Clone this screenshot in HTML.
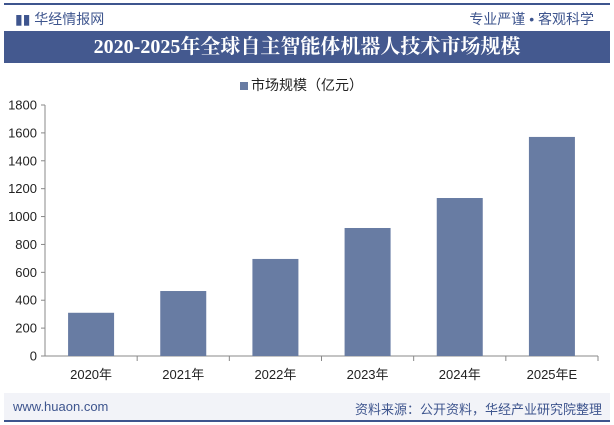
<!DOCTYPE html>
<html><head><meta charset="utf-8"><style>
body{margin:0;width:614px;height:425px;background:#fff;font-family:"Liberation Sans","Noto Sans CJK SC",sans-serif;position:relative;overflow:hidden}
.abs{position:absolute}
</style></head><body>
<div class="abs" style="left:4px;top:3px;width:606px;height:2px;background:#3e558e"></div>
<div class="abs" style="left:15px;top:9px;font-size:14px;color:#3e558e">▮▮ 华经情报网</div>
<div class="abs" style="right:20px;top:9px;font-size:14px;color:#3e558e">专业严谨 • 客观科学</div>
<div class="abs" style="left:4px;top:31px;width:606px;height:32px;background:#44598f;color:#fff;font-size:20px;font-weight:bold;text-align:center;line-height:32px;font-family:'Liberation Serif','Noto Serif CJK SC',serif">2020-2025年全球自主智能体机器人技术市场规模</div>
<div class="abs" style="left:240px;top:75px;font-size:14px;color:#222"><span style="display:inline-block;width:8px;height:8px;background:#687ca3;margin-right:3px"></span>市场规模（亿元）</div>
<svg class="abs" style="left:0;top:0" width="614" height="425" id="chart"></svg>
<div class="abs" style="left:4px;top:393px;width:606px;height:27px;background:#f2f3f8"></div>
<div class="abs" style="left:4px;top:420px;width:606px;height:2px;background:#3e558e"></div>
<div class="abs" style="left:13px;top:399px;font-size:13px;color:#3e558e">www.huaon.com</div>
<div class="abs" style="right:12px;top:399px;font-size:13px;color:#3e558e">资料来源：公开资料，华经产业研究院整理</div>
<script>
const categories=["2020年","2021年","2022年","2023年","2024年","2025年E"];
const values=[310,466,696,918,1133,1571];
const ticks=[0,200,400,600,800,1000,1200,1400,1600,1800];
const NS="http://www.w3.org/2000/svg",svg=document.getElementById("chart");
const x0=45,x1=598,y0=356,yTop=105,max=1800;
const y=v=>y0-(y0-yTop)*v/max;
const bw=(x1-x0)/categories.length;
function mk(t,a,txt){const e=document.createElementNS(NS,t);for(const k in a)e.setAttribute(k,a[k]);if(txt!==undefined)e.textContent=txt;svg.appendChild(e);return e;}
let e=mk("line",{x1:x0,x2:x0,y1:y(max),y2:y0,stroke:"#888"});

e=mk("line",{x1:x0,x2:x1,y1:y0,y2:y0,stroke:"#888"});

ticks.forEach(t=>{
 mk("line",{x1:x0-4,x2:x0,y1:y(t),y2:y(t),stroke:"#888"});
 e=mk("text",{x:x0-8,y:y(t)+4.5,"text-anchor":"end","font-size":"13",fill:"#222","font-family":"Liberation Sans"},t);
 
});
categories.forEach((c,i)=>{
 const cx=x0+bw*(i+0.5);
 mk("line",{x1:x0+bw*(i+1),x2:x0+bw*(i+1),y1:y0,y2:y0+5,stroke:"#888"});
 e=mk("rect",{x:cx-23,y:y(values[i]),width:46,height:y0-y(values[i]),fill:"#687ca3"});
 
 e=mk("text",{x:cx,y:y0+23,"text-anchor":"middle","font-size":"13",fill:"#222","font-family":"Liberation Sans, Noto Sans CJK SC"},c);
 
});
</script>
</body></html>
